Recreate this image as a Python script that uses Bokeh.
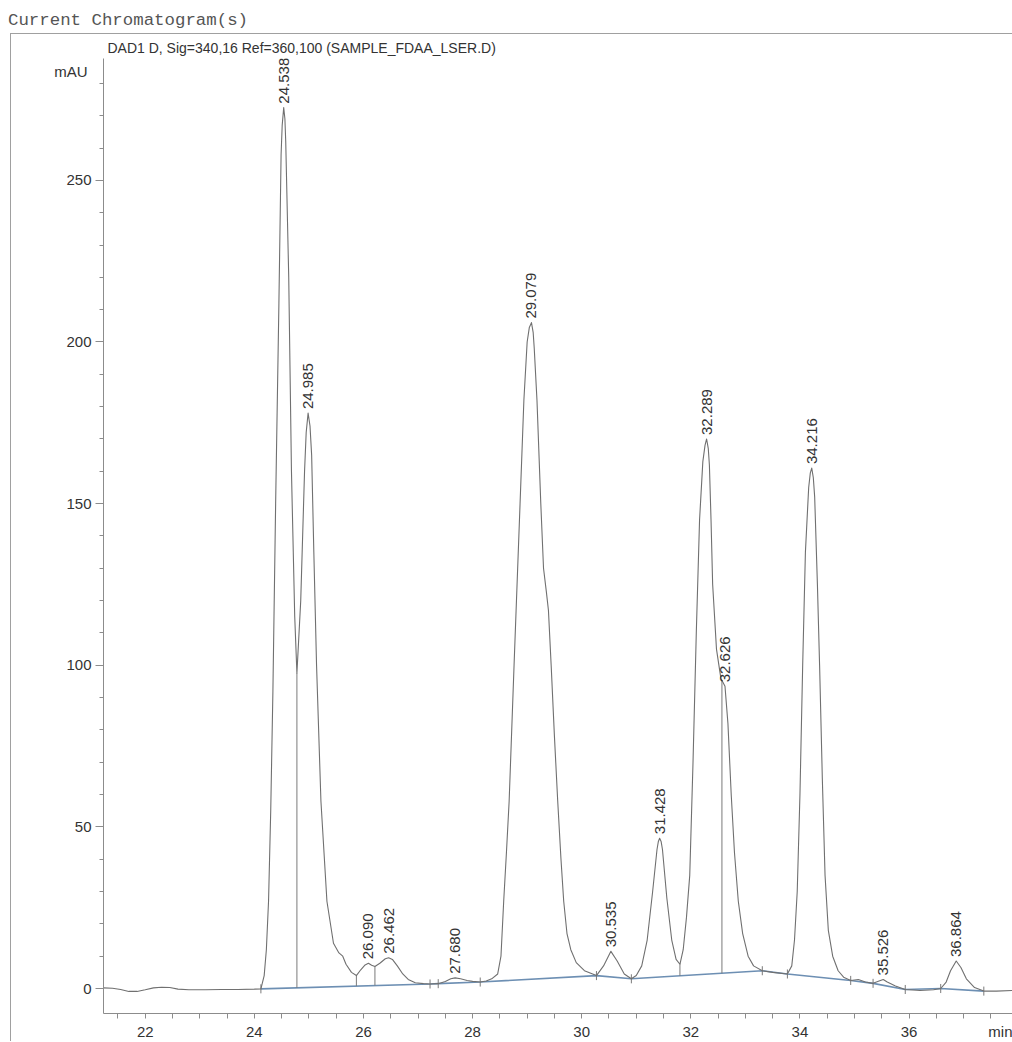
import numpy as np
from bokeh.plotting import figure
from bokeh.models import FixedTicker, Range1d, Div, ColumnDataSource, LinearAxis
from bokeh.layouts import column
from bokeh.embed import file_html
from bokeh.resources import INLINE
from bokeh.core.properties import value

# ---- data ----
time_min = [21.235, 21.4, 21.55, 21.7, 21.85, 22.0, 22.15, 22.3, 22.45, 22.6, 22.8, 23.1, 23.4, 23.7, 24.0,
            24.12, 24.18, 24.22, 24.26, 24.30, 24.34, 24.39, 24.45, 24.49, 24.51, 24.538, 24.56, 24.575,
            24.63, 24.68, 24.74,
            24.78, 24.85, 24.92, 24.95, 24.985, 25.02, 25.05, 25.09, 25.14, 25.22, 25.33, 25.45, 25.55,
            25.62, 25.68, 25.78, 25.87,
            25.95, 26.03, 26.09, 26.15, 26.21, 26.3, 26.4, 26.462, 26.53, 26.62, 26.72, 26.82, 26.95, 27.1,
            27.22, 27.37, 27.5, 27.6, 27.68, 27.78, 27.9, 28.0, 28.14, 28.25, 28.35,
            28.46, 28.52, 28.57, 28.62, 28.67, 28.76, 28.87, 28.94, 29.0, 29.04, 29.079, 29.11, 29.13,
            29.18, 29.25, 29.3,
            29.35, 29.39, 29.44, 29.5, 29.56, 29.62, 29.67, 29.73, 29.8, 29.9, 30.05, 30.27,
            30.4, 30.535, 30.65, 30.78, 30.91,
            31.0, 31.1, 31.2, 31.3, 31.38, 31.405, 31.428, 31.455, 31.48, 31.56, 31.65, 31.73, 31.8,
            31.86, 31.92, 31.98, 32.04, 32.1, 32.16, 32.22, 32.26, 32.289, 32.32, 32.34, 32.37, 32.4,
            32.47, 32.55, 32.626, 32.68,
            32.74, 32.8, 32.87, 32.95, 33.05, 33.15, 33.31,
            33.5, 33.77, 33.85, 33.9, 33.95, 34.0, 34.05, 34.1, 34.16, 34.19, 34.216, 34.245, 34.27,
            34.32, 34.36, 34.41,
            34.46, 34.52, 34.6, 34.7, 34.8, 34.93,
            35.07, 35.2, 35.34, 35.45, 35.526, 35.6, 35.75, 35.93, 36.2, 36.45, 36.58, 36.68, 36.76, 36.864,
            36.95, 37.05, 37.2, 37.37, 37.6, 37.914]
absorbance_mau = [0.2, 0.1, -0.3, -0.9, -0.9, -0.4, 0.2, 0.4, 0.3, -0.2, -0.4, -0.4, -0.3, -0.3, -0.2,
                  -0.1, 4, 12, 27, 55, 92, 150, 212, 258, 267, 272.5, 269, 262,
                  220, 160, 115,
                  97.5, 120, 160, 172, 178, 174, 165, 135, 100, 58, 27, 14, 11,
                  10, 7.5, 5, 4,
                  5.8, 7.3, 7.8, 7.2, 6.8, 7.8, 9.2, 9.5, 9, 7, 4.5, 2.8, 1.8, 1.5,
                  1.4, 1.5, 2.2, 3.0, 3.3, 3.0, 2.5, 2.2, 2.0, 2.3, 3.0,
                  4.5, 10, 27, 42, 58, 100, 150, 182, 200, 204.5, 206, 203, 198,
                  182, 150, 130,
                  123, 117, 100, 78, 58, 40, 27, 17, 12, 8, 5.5, 4,
                  7, 11.5, 8.5, 4.5, 3,
                  4, 7, 15, 30, 43, 45.5, 46.5, 45.5, 43, 28, 15, 9, 7.5,
                  12, 22, 35, 70, 110, 145, 163, 168, 170, 167, 162, 145, 125,
                  105, 96, 93.5, 82,
                  60, 42, 27, 17, 10, 7, 5.5,
                  5, 4.5, 7, 15, 30, 60, 100, 135, 155, 159.5, 161, 158, 152,
                  125, 100, 65,
                  35, 18, 10, 5.5, 3.5, 2.5,
                  2.8, 2.0, 1.6, 2.3, 2.8, 2.0, 0.8, -0.3, -0.6, -0.4, 0.0, 2, 5.5, 8.5,
                  6.5, 3, 0.3, -0.8, -0.8, -0.6]

peak_rt = [24.538, 24.985, 26.090, 26.462, 27.680, 29.079, 30.535, 31.428, 32.289, 32.626, 34.216, 35.526, 36.864]
peak_height = [272.5, 178, 7.8, 9.5, 3.3, 206, 11.5, 46.5, 170, 93.5, 161, 2.8, 8.5]
peak_labels = ["24.538", "24.985", "26.090", "26.462", "27.680", "29.079", "30.535",
               "31.428", "32.289", "32.626", "34.216", "35.526", "36.864"]

baseline_t = [24.12, 27.22, 27.37, 28.14, 30.27, 30.91, 33.31, 33.77, 34.93, 35.34, 35.93, 36.58, 37.37]
baseline_mau = [-0.1, 1.4, 1.5, 2.0, 4.0, 3.0, 5.5, 4.5, 2.5, 1.6, -0.3, 0.0, -0.8]

drop_t = [24.78, 25.87, 26.21, 31.8, 32.57]

x_ticks = [22, 24, 26, 28, 30, 32, 34, 36]
y_ticks = [0, 50, 100, 150, 200, 250]
x_unit, x_unit_pos = "min", 37.82
y_unit, y_unit_pos = "mAU", 283.8

title_text = "Current Chromatogram(s)"
signal_text = "DAD1 D, Sig=340,16 Ref=360,100 (SAMPLE_FDAA_LSER.D)"

# ---- figure ----
X0, X1 = 21.235, 37.914
Y0, Y1 = -7.73, 287.7

p = figure(width=1002, height=1008, x_range=Range1d(X0, X1), y_range=Range1d(Y0, Y1),
           output_backend="svg", toolbar_location=None,
           min_border_left=92, min_border_right=0, min_border_top=24, min_border_bottom=27)
p.margin = (0, 0, 0, 10)
p.styles = {"border-left": "1px solid #a0a0a0", "border-top": "1px solid #a0a0a0"}
p.outline_line_color = None
p.xgrid.visible = False
p.ygrid.visible = False
p.background_fill_color = "white"
p.border_fill_color = "white"

p.title.text = signal_text
p.title.align = "left"
p.title.offset = 4
p.title.standoff = 6
p.title.text_font = "Liberation Sans"
p.title.text_font_size = "14px"
p.title.text_font_style = "normal"
p.title.text_color = "#333333"

axis_col = "#8c8c8c"
lab_col = "#333333"
for ax in (p.xaxis[0], p.yaxis[0]):
    ax.axis_line_color = axis_col
    ax.major_tick_line_color = axis_col
    ax.minor_tick_line_color = axis_col
    ax.major_tick_in = 0
    ax.minor_tick_in = 0
    ax.major_label_text_font = "Liberation Sans"
    ax.major_label_text_font_size = "15px"
    ax.major_label_text_color = lab_col

p.xaxis.ticker = FixedTicker(ticks=x_ticks + [x_unit_pos], minor_ticks=list(np.arange(21.5, 38.0, 0.5)))
p.xaxis.major_label_overrides = {x_unit_pos: x_unit}
p.xaxis.major_tick_out = 0
p.xaxis.minor_tick_out = 5
p.xaxis.major_label_standoff = 4

p.yaxis.ticker = FixedTicker(ticks=y_ticks, minor_ticks=list(range(10, 290, 10)))
p.yaxis.major_tick_out = 8
p.yaxis.minor_tick_out = 4
p.yaxis.major_label_standoff = 4

# unit label on the left, drawn by a tick-less secondary axis
unit_axis = LinearAxis(ticker=FixedTicker(ticks=[y_unit_pos], minor_ticks=[]),
                       major_label_overrides={y_unit_pos: y_unit},
                       axis_line_color=None, major_tick_line_color=None, minor_tick_line_color=None,
                       major_tick_in=0, major_tick_out=0, minor_tick_in=0, minor_tick_out=0,
                       major_label_standoff=-24, major_label_text_font="Liberation Sans",
                       major_label_text_font_size="15px", major_label_text_color=lab_col)
p.add_layout(unit_axis, "left")

# integration baseline
p.line(baseline_t, baseline_mau, line_color="#6d8fb3", line_width=1.6)

# drop lines from trace down to baseline
drop_top = np.interp(drop_t, time_min, absorbance_mau)
drop_bot = np.interp(drop_t, baseline_t, baseline_mau)
p.segment(x0=drop_t, y0=drop_bot, x1=drop_t, y1=drop_top, line_color="#7a7a7a", line_width=1)

# small boundary marks on the baseline
bt = np.array(baseline_t)
bm = np.array(baseline_mau)
p.segment(x0=bt, y0=bm - 1.4, x1=bt, y1=bm + 1.4, line_color="#7a7a7a", line_width=1)

# signal trace
p.line(time_min, absorbance_mau, line_color="#707070", line_width=1.1, line_join="round")

# peak retention-time labels
src = ColumnDataSource(dict(x=peak_rt, y=peak_height, t=peak_labels))
p.text(x="x", y="y", text="t", source=src, angle=np.pi / 2, text_align="left",
       text_baseline="middle", y_offset=-4, text_font=value("Liberation Sans"),
       text_font_size="15px", text_color=lab_col)

head = Div(text=title_text, width=1012, height=33, margin=(0, 0, 0, 0),
           styles={"font-family": "Liberation Mono", "font-size": "17.4px", "color": "#555555",
                   "padding-left": "8px", "padding-top": "9px", "box-sizing": "border-box"})

layout = column(head, p, spacing=0)
open("out.html", "w").write(file_html(layout, INLINE))
